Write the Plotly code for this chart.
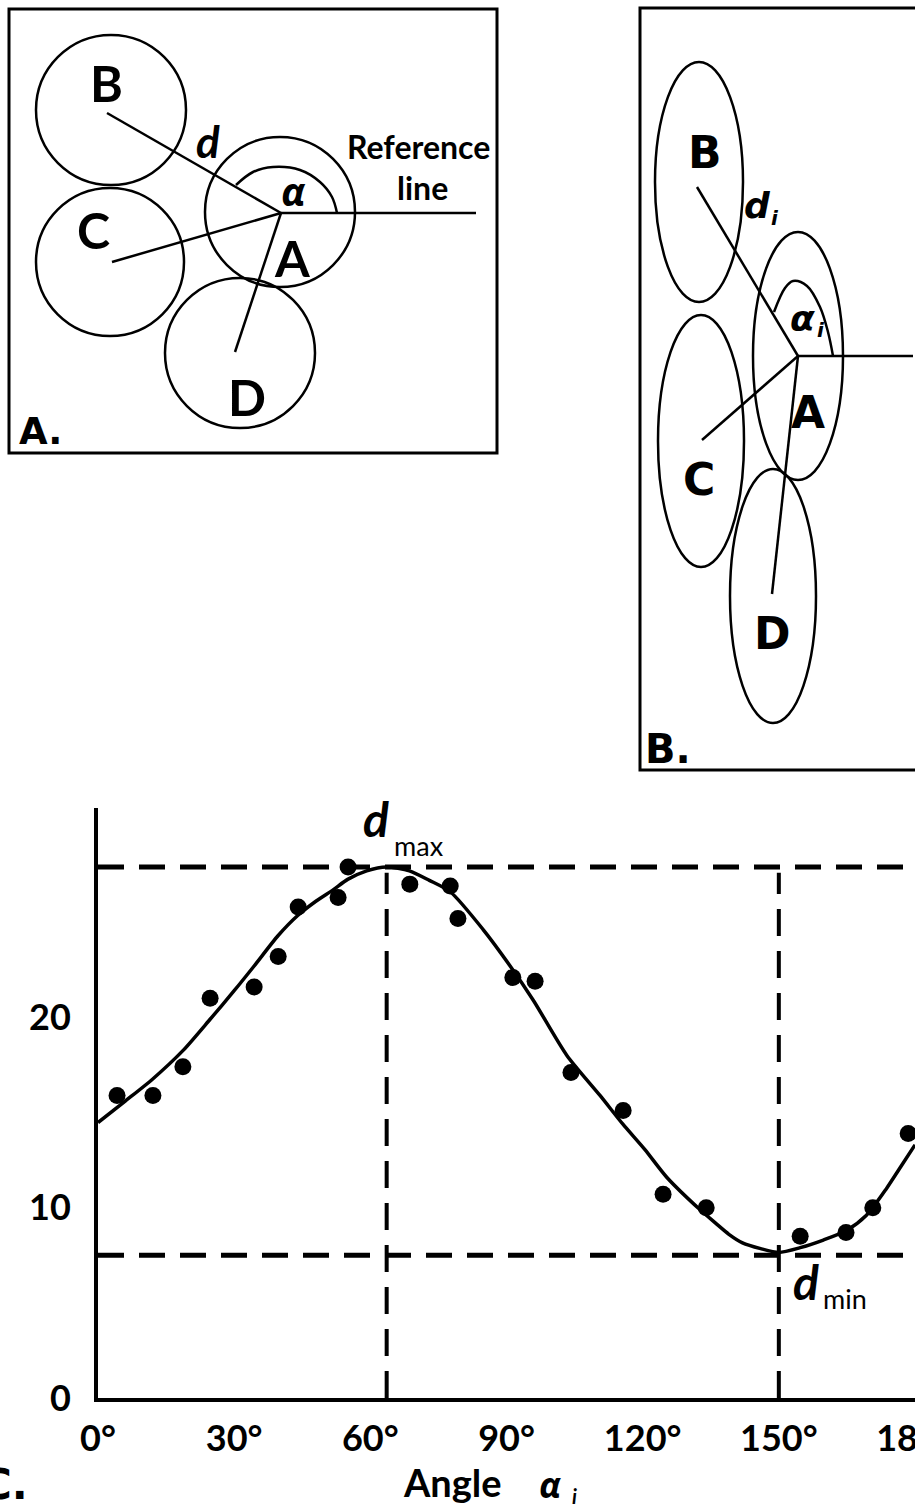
import plotly.graph_objects as go

# panel C: distance d_i between particle centres against the angle alpha_i
angle_obs = [4.2, 12.1, 18.7, 24.7, 34.4, 39.7, 44.1, 52.9, 55.1, 68.7, 77.6,
             79.3, 91.4, 96.3, 104.2, 115.7, 124.5, 134.0, 154.7, 164.8, 170.7, 178.5]
dist_obs = [15.9, 15.9, 17.4, 21.0, 21.6, 23.2, 25.8, 26.3, 27.9, 27.0, 26.9,
            25.2, 22.1, 21.9, 17.1, 15.1, 10.7, 10.0, 8.5, 8.7, 10.0, 13.9]

angle_fit = [0, 6, 12, 18.7, 24.7, 30, 34.4, 39.7, 44, 48, 51.8, 55, 59.2, 63.6,
             68.6, 73, 77.6, 84.9, 90.8, 95.9, 103.3, 110.6, 115.6, 120.5, 125.3,
             132.6, 136, 139, 142, 146, 150, 154.7, 159.8, 164.9, 169.3, 173.7, 177, 180]
dist_fit = [14.47, 15.6, 16.75, 18.25, 19.9, 21.4, 22.7, 24.3, 25.35, 26.1, 26.7,
            27.25, 27.7, 27.9, 27.7, 27.2, 26.6, 24.6, 22.7, 20.9, 18.0, 15.9,
            14.4, 13.05, 11.6, 9.9, 9.2, 8.6, 8.15, 7.85, 7.65, 7.9, 8.3, 8.8, 9.6,
            11.0, 12.2, 13.3]

angle_max, d_max = 63.6, 27.9
angle_min, d_min = 150.0, 7.5

x_ticks = [0, 30, 60, 90, 120, 150, 180]
x_tick_text = ["0°", "30°", "60°", "90°", "120°", "150°", "180°"]
y_ticks = [0, 10, 20]

# panels A and B are sketches, laid out in page pixels (x right, y down)
a_names = ["B", "C", "A", "D"]
a_cx = [111, 110, 280, 240]
a_cy = [110, 262, 212, 353]
a_r = [75, 74, 75, 75]
a_label_x = [106, 93, 292, 247]
a_label_y = [83, 230, 258, 397]
a_spoke_x = [107, 112, 235]
a_spoke_y = [113, 262, 352]
a_arc_x = [337, 332, 320, 300, 273, 253, 236]
a_arc_y = [213, 197, 182, 170, 167, 172, 185]

b_names = ["B", "C", "A", "D"]
b_cx = [699, 701, 798, 773]
b_cy = [182, 441, 356, 596]
b_rx = [44, 43, 45, 43]
b_ry = [120, 126, 124, 127]
b_label_x = [705, 699, 808, 772]
b_label_y = [152, 479, 412, 633]
b_spoke_x = [697, 702, 772]
b_spoke_y = [187, 440, 594]
b_arc_x = [774, 785, 793, 807, 820, 828, 833]
b_arc_y = [312, 288, 281, 286, 307, 332, 356]

W, H = 915, 1508
CAL = "Lato"
HEAVY = "DejaVu Sans"

fig = go.Figure()

# ---- panel C ----
fig.add_trace(go.Scatter(x=angle_fit, y=dist_fit, mode="lines",
                         line=dict(color="black", width=3.5, shape="spline", smoothing=0.7),
                         hoverinfo="skip", xaxis="x", yaxis="y"))
fig.add_trace(go.Scatter(x=angle_obs, y=dist_obs, mode="markers",
                         marker=dict(color="black", size=17),
                         xaxis="x", yaxis="y"))

dash_h = dict(color="black", width=5, dash="26px,15px")
dash_v = dict(color="black", width=4, dash="27px,15px")
fig.add_shape(type="line", xref="x", yref="y", x0=0, x1=180, y0=d_max, y1=d_max,
              line=dash_h, layer="below")
fig.add_shape(type="line", xref="x", yref="y", x0=0, x1=180, y0=d_min, y1=d_min,
              line=dash_h, layer="below")
fig.add_shape(type="line", xref="x", yref="y", x0=angle_max, x1=angle_max, y0=0, y1=d_max - 0.3,
              line=dash_v, layer="below")
fig.add_shape(type="line", xref="x", yref="y", x0=angle_min, x1=angle_min, y0=0, y1=d_max - 0.3,
              line=dash_v, layer="below")

# ---- panels A and B (overlay axes in pixels) ----
thin = dict(color="black", width=2.5)

fig.add_shape(type="rect", xref="x2", yref="y2", x0=9, x1=497, y0=9, y1=453,
              line=dict(color="black", width=3))
for cx, cy, r in zip(a_cx, a_cy, a_r):
    fig.add_shape(type="circle", xref="x2", yref="y2", x0=cx - r, x1=cx + r,
                  y0=cy - r, y1=cy + r, line=thin)
hub_x, hub_y = a_cx[2] + 1, a_cy[2] + 1
for sx, sy in zip(a_spoke_x, a_spoke_y):
    fig.add_shape(type="line", xref="x2", yref="y2", x0=hub_x, y0=hub_y, x1=sx, y1=sy, line=thin)
fig.add_shape(type="line", xref="x2", yref="y2", x0=hub_x, y0=hub_y, x1=476, y1=hub_y, line=thin)
fig.add_trace(go.Scatter(x=a_arc_x, y=a_arc_y, mode="lines", xaxis="x2", yaxis="y2",
                         line=dict(color="black", width=2.5, shape="spline"), hoverinfo="skip"))

fig.add_shape(type="rect", xref="x2", yref="y2", x0=640, x1=W + 20, y0=8, y1=770,
              line=dict(color="black", width=3))
for cx, cy, rx, ry in zip(b_cx, b_cy, b_rx, b_ry):
    fig.add_shape(type="circle", xref="x2", yref="y2", x0=cx - rx, x1=cx + rx,
                  y0=cy - ry, y1=cy + ry, line=thin)
hub_bx, hub_by = b_cx[2], b_cy[2]
for sx, sy in zip(b_spoke_x, b_spoke_y):
    fig.add_shape(type="line", xref="x2", yref="y2", x0=hub_bx, y0=hub_by, x1=sx, y1=sy, line=thin)
fig.add_shape(type="line", xref="x2", yref="y2", x0=hub_bx, y0=hub_by, x1=913, y1=hub_by, line=thin)
fig.add_trace(go.Scatter(x=b_arc_x, y=b_arc_y, mode="lines", xaxis="x2", yaxis="y2",
                         line=dict(color="black", width=2.5, shape="spline"), hoverinfo="skip"))


def label(x, y, text, size, family=CAL, weight="bold", style="normal", xanchor="center"):
    fig.add_annotation(x=x, y=y, xref="x2", yref="y2", text=text, showarrow=False,
                       xanchor=xanchor, yanchor="middle",
                       font=dict(family=family, size=size, color="black",
                                 weight=weight, style=style))


for name, lx, ly in zip(a_names, a_label_x, a_label_y):
    label(lx, ly, name, 50)
label(208, 141, "d", 44, style="italic")
label(293, 190, "α", 40, family="Open Sans", style="italic")
label(418, 146, "Reference", 32)
label(422, 187, "line", 32)
label(40, 431, "A.", 37, family=HEAVY)

for name, lx, ly in zip(b_names, b_label_x, b_label_y):
    label(lx, ly, name, 44, family=HEAVY)
label(757, 205, "d", 36, family=HEAVY, style="italic")
label(775, 218, "i", 20, family=HEAVY, style="italic")
label(802, 318, "α", 36, family=HEAVY, style="italic")
label(821, 330, "i", 20, family=HEAVY, style="italic")
label(668, 749, "B.", 40, family=HEAVY)

label(376, 818, "d", 48, style="italic")
label(419, 845, "max", 27, weight="normal")
label(806, 1281, "d", 48, style="italic")
label(845, 1298, "min", 27, weight="normal")

label(452, 1482, "Angle", 38)
label(550, 1484, "α", 36, family="Open Sans", style="italic")
label(574, 1496, "i", 20, style="italic")
label(30, 1484, "C.", 42, family=HEAVY, xanchor="right")

x0p, x1p = 98, W
y_top, y_bot = 808, 1398
fig.update_layout(
    width=W, height=H, template="none",
    margin=dict(l=0, r=0, t=0, b=0),
    paper_bgcolor="white", plot_bgcolor="rgba(0,0,0,0)",
    showlegend=False,
    xaxis=dict(domain=[x0p / W, x1p / W], range=[0, 180], anchor="y",
               tickvals=x_ticks, ticktext=x_tick_text, ticklabeloverflow="allow",
               showline=True, linecolor="black", linewidth=4, showgrid=False, zeroline=False,
               ticks="outside", ticklen=6, tickcolor="rgba(0,0,0,0)", automargin=False,
               tickfont=dict(family=CAL, size=36, color="black", weight="bold")),
    yaxis=dict(domain=[(H - y_bot) / H, (H - y_top) / H], range=[0, 31], anchor="x",
               tickvals=y_ticks, ticklabeloverflow="allow",
               showline=True, linecolor="black", linewidth=4, showgrid=False, zeroline=False,
               ticks="outside", ticklen=16, tickcolor="rgba(0,0,0,0)", automargin=False,
               tickfont=dict(family=CAL, size=36, color="black", weight="bold")),
    xaxis2=dict(domain=[0, 1], range=[0, W], anchor="y2", visible=False, fixedrange=True),
    yaxis2=dict(domain=[0, 1], range=[H, 0], anchor="x2", visible=False, fixedrange=True),
)

# the page's default body margin would push the figure 8px off the window
fig.write_html("out.html", config={"displayModeBar": False},
               post_script="document.body.style.margin = '0';")
